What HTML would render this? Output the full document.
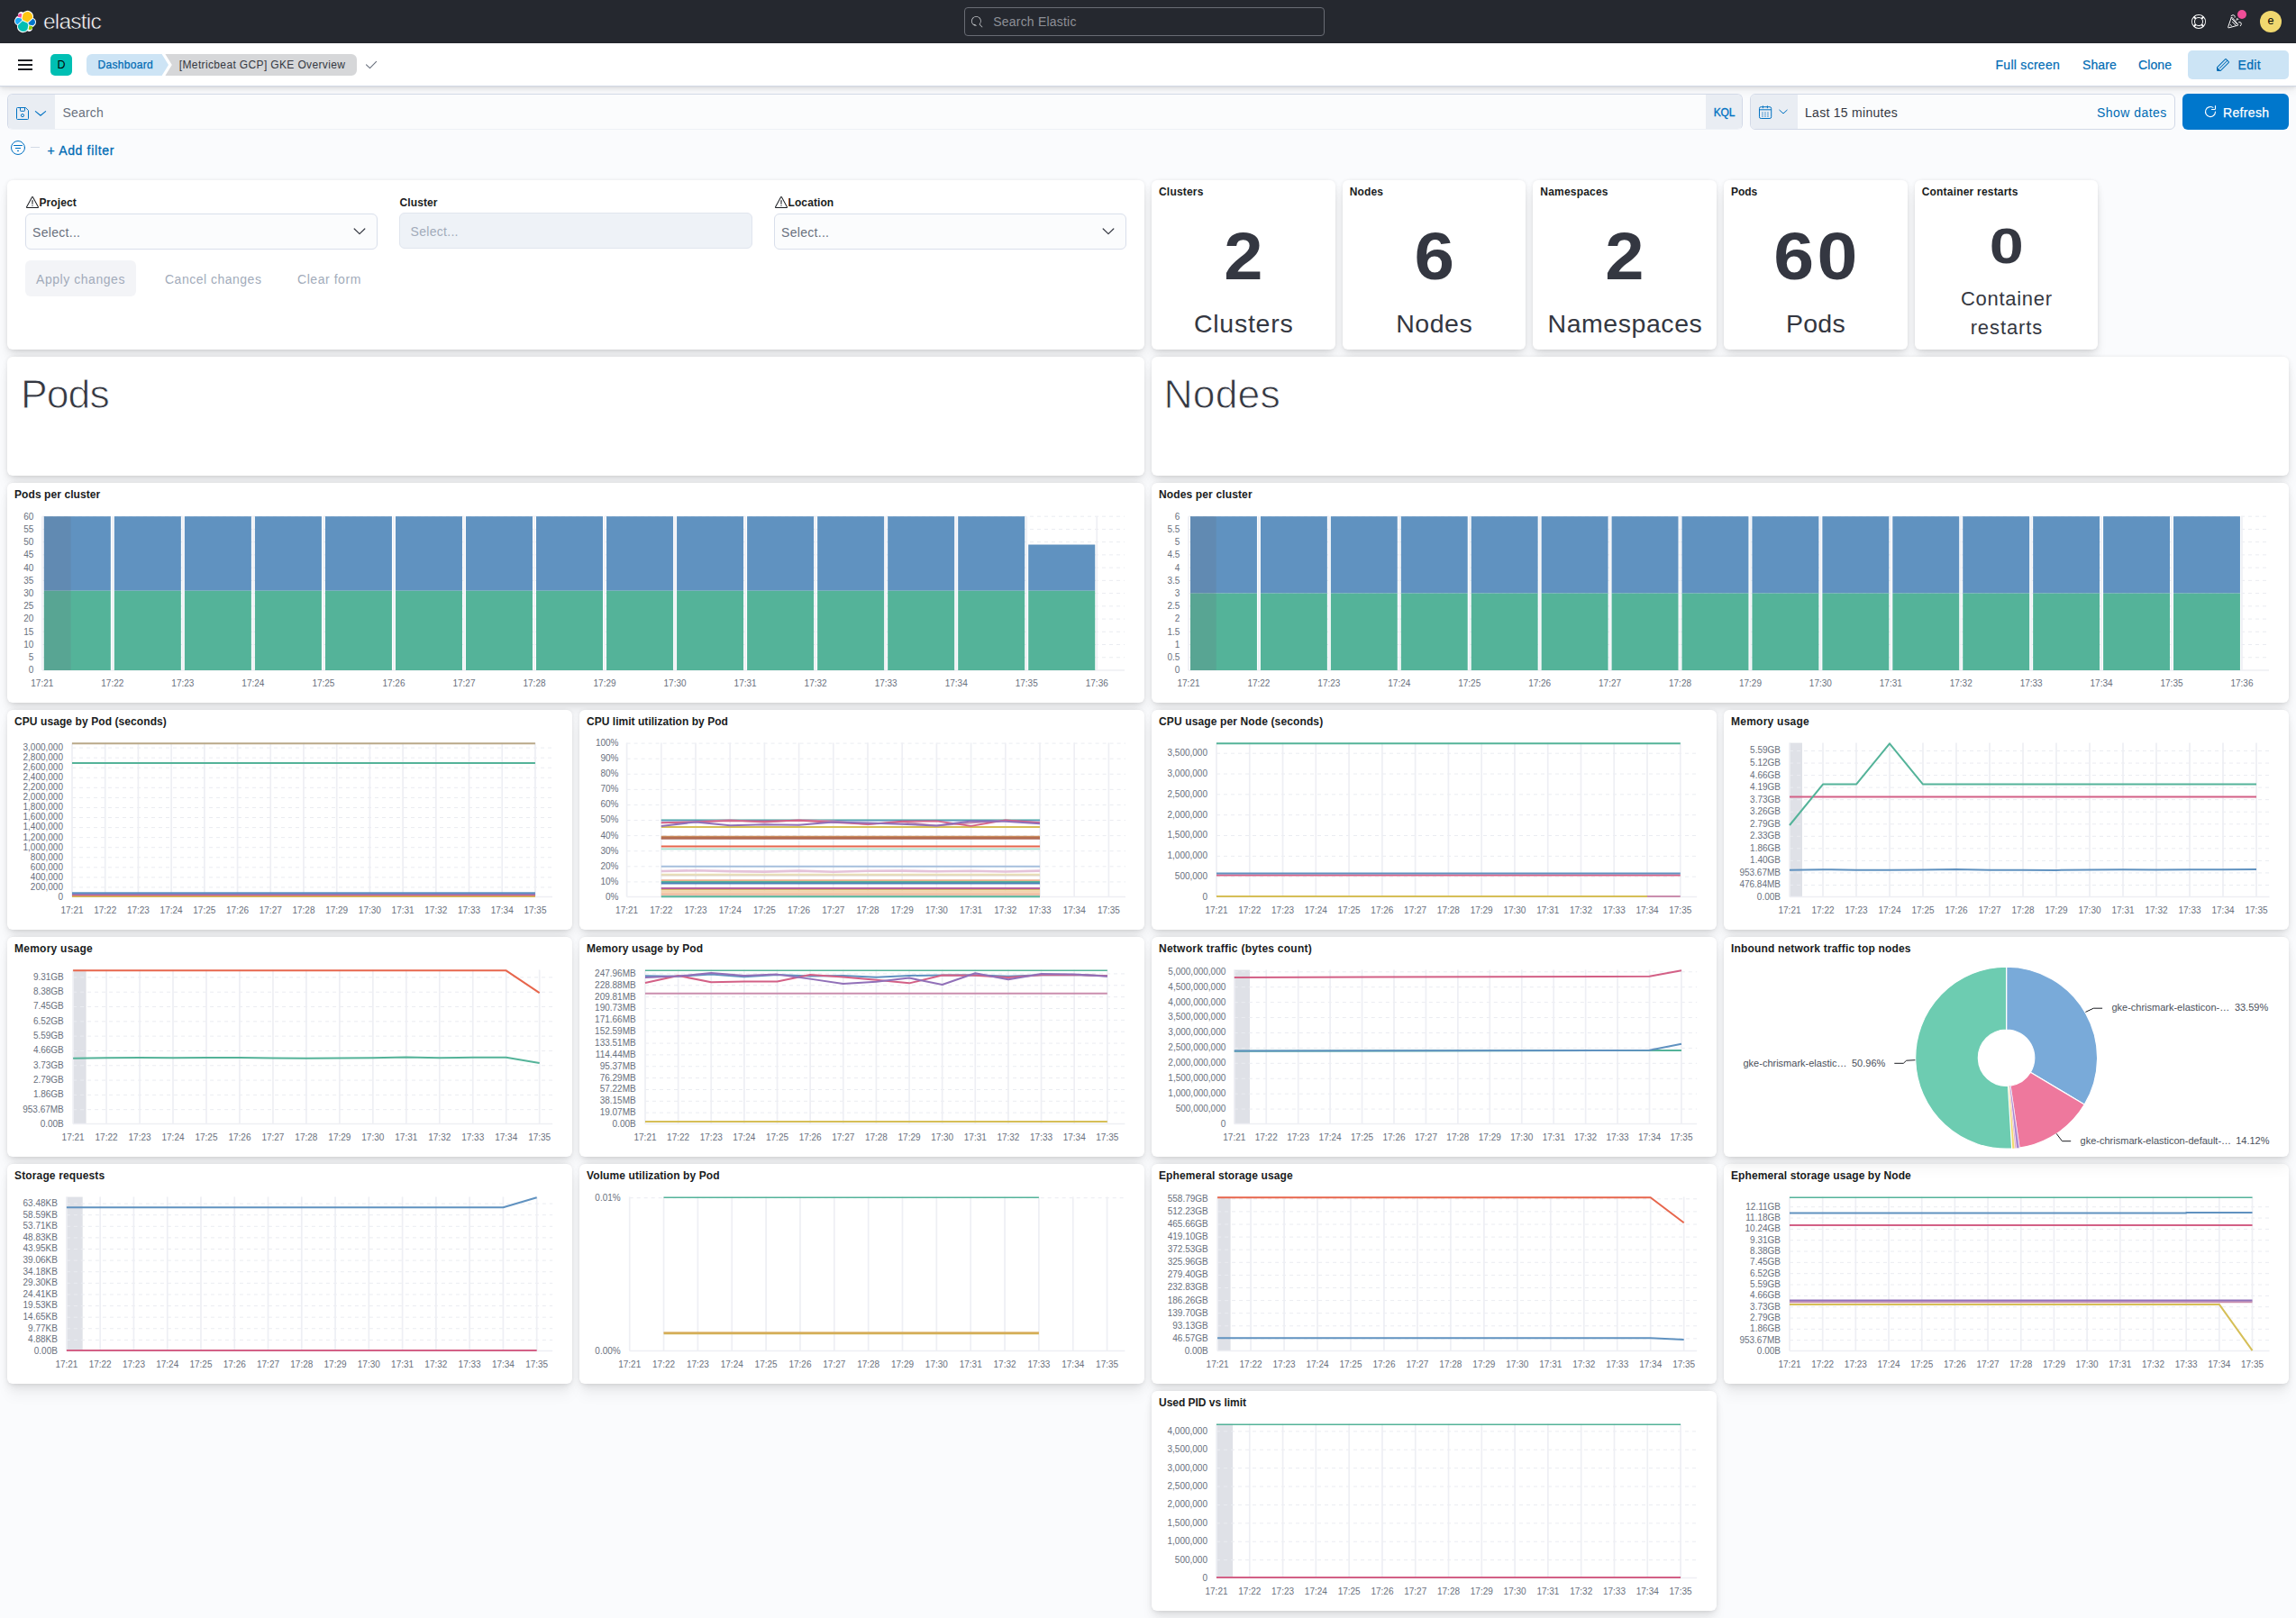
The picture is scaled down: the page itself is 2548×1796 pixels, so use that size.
<!DOCTYPE html><html lang="en"><head><meta charset="utf-8"><title>[Metricbeat GCP] GKE Overview - Elastic</title><style>
*{box-sizing:border-box;margin:0;padding:0}
html,body{width:2548px;height:1796px;overflow:hidden}
body{background:#fafbfd;font-family:"Liberation Sans",sans-serif;color:#343741;position:relative;font-size:14px}
.abs{position:absolute}
.t{position:absolute;white-space:nowrap;line-height:1}
#top{position:absolute;left:0;top:0;width:2548px;height:48px;background:#25282f}
#nav{position:absolute;left:0;top:48px;width:2548px;height:48px;background:#fff;border-bottom:1px solid #d3dae6;box-shadow:0 .7px 1.400px rgba(0,0,0,.09),0 1.900px 4px rgba(0,0,0,.07),0 4.500px 10px rgba(0,0,0,.06)}
.panel{position:absolute;background:#fff;border-radius:6px;box-shadow:0 .9px 4px -1px rgba(0,0,0,.08),0 2.6px 8px -1px rgba(0,0,0,.06),0 5.7px 12px -1px rgba(0,0,0,.05),0 15px 15px -1px rgba(0,0,0,.04)}
.ptitle{position:absolute;left:8px;top:6px;font-size:12px;font-weight:700;color:#1a1c21;white-space:nowrap;line-height:14px;letter-spacing:.17px}
.link{color:#006bb4}
svg{position:absolute;overflow:visible}
svg text{font-family:"Liberation Sans",sans-serif}
.mnum{position:absolute;left:0;width:100%;text-align:center;font-weight:700;color:#343741;line-height:1;white-space:nowrap}
.mlab{position:absolute;left:0;width:100%;text-align:center;color:#343741;line-height:1;white-space:nowrap}
.sel{position:absolute;height:40px;border-radius:6px;font-size:14px;color:#69707d}
</style></head><body>
<div id="top">
<svg style="left:16px;top:12px" width="24" height="24" viewBox="0 0 32 32"><g fill="none" fill-rule="evenodd">
<path fill="#FFF" d="M32 16.77a6.334 6.334 0 0 0-1.14-3.63 6.269 6.269 0 0 0-3.02-2.31 9.044 9.044 0 0 0-.47-5.67 9.01 9.01 0 0 0-3.8-4.22 8.906 8.906 0 0 0-5.57-1.06 8.937 8.937 0 0 0-5.07 2.54 4.805 4.805 0 0 0-5.66-.11 4.87 4.87 0 0 0-1.81 2.42 4.903 4.903 0 0 0-.05 3.03A6.403 6.403 0 0 0 1.18 11.6 6.462 6.462 0 0 0 0 15.25c0 1.31.4 2.58 1.14 3.65a6.321 6.321 0 0 0 3.03 2.31 9.003 9.003 0 0 0 .47 5.66 8.943 8.943 0 0 0 3.79 4.22 8.891 8.891 0 0 0 5.56 1.06 8.907 8.907 0 0 0 5.07-2.53 4.78 4.78 0 0 0 5.65.11 4.847 4.847 0 0 0 1.81-2.42c.33-.98.35-2.04.05-3.03a6.4 6.4 0 0 0 3.06-2.34A6.455 6.455 0 0 0 32 16.77"/>
<path fill="#FEC514" d="M12.58 13.787l7.002 3.211 7.066-6.213a7.849 7.849 0 0 0 .152-1.557c0-4.287-3.472-7.775-7.74-7.775a7.72 7.72 0 0 0-6.387 3.382l-1.176 6.122 1.083 2.83z"/>
<path fill="#00BFB3" d="M5.333 21.215A7.94 7.94 0 0 0 5.18 22.8c0 4.3 3.483 7.798 7.764 7.798a7.733 7.733 0 0 0 6.408-3.407l1.166-6.103-1.556-2.988-7.03-3.217-6.6 6.332z"/>
<path fill="#F04E98" d="M5.29 9.067l4.8 1.137L11.14 4.73a3.785 3.785 0 0 0-2.304-.786c-2.086 0-3.783 1.704-3.783 3.8 0 .463.08.906.237 1.323"/>
<path fill="#1BA9F5" d="M4.873 10.214C2.73 10.926 1.23 12.99 1.23 15.26a5.33 5.33 0 0 0 3.408 4.98l6.733-6.112-1.236-2.653-5.262-1.26z"/>
<path fill="#93C90E" d="M20.873 27.278a3.737 3.737 0 0 0 2.286.787c2.086 0 3.783-1.704 3.783-3.8 0-.462-.08-.905-.236-1.322l-4.795-1.127-1.038 5.462z"/>
<path fill="#07C" d="M21.848 20.563l5.28 1.24c2.144-.71 3.644-2.776 3.644-5.047a5.32 5.32 0 0 0-3.415-4.97l-6.904 6.075 1.395 2.702z"/>
</g></svg>
<div class="t" style="left:48px;top:10px;font-size:24.5px;color:#fff;letter-spacing:-.8px;line-height:28px;-webkit-text-stroke:.55px #25282f">elastic</div>
<div class="abs" style="left:1070px;top:8px;width:400px;height:32px;border:1px solid #696c74;border-radius:4px"></div>
<svg style="left:1078px;top:18px" width="12.4" height="12.4" viewBox="0 0 16 16" fill="#c2c4c8"><path d="M11.271 11.978l3.872 3.873a.502.502 0 0 0 .708 0 .502.502 0 0 0 0-.708l-3.565-3.564c2.38-2.747 2.267-6.923-.342-9.532-2.73-2.73-7.17-2.73-9.898 0-2.728 2.729-2.728 7.17 0 9.9a6.955 6.955 0 0 0 4.949 2.05.5.5 0 0 0 0-1 5.96 5.96 0 0 0-4.242-1.757 6.01 6.01 0 0 1 0-8.486c2.337-2.34 6.143-2.34 8.484 0a6.01 6.01 0 0 1 0 8.486.5.5 0 0 0 .034.738z"/></svg>
<div class="t" style="left:1102.300px;top:17px;font-size:14px;color:#8e9097;letter-spacing:.2px">Search Elastic</div>
<svg style="left:2432px;top:16px" width="16" height="16" viewBox="0 0 16 16" fill="#fff"><path d="M13.6 12.186l-1.357-1.358c-.025-.025-.058-.034-.084-.056.53-.794.84-1.746.84-2.773a4.977 4.977 0 0 0-.84-2.772c.026-.02.059-.03.084-.056L13.6 3.813a6.96 6.96 0 0 1 0 8.373zM8 15A6.956 6.956 0 0 1 3.814 13.6l1.358-1.358c.025-.025.034-.057.055-.084C6.02 12.688 6.974 13 8 13a4.978 4.978 0 0 0 2.773-.84c.02.026.03.058.056.083l1.357 1.358A6.956 6.956 0 0 1 8 15zm-5.601-2.813a6.963 6.963 0 0 1 0-8.373l1.359 1.358c.024.025.057.035.084.056A4.97 4.97 0 0 0 3 8c0 1.027.31 1.98.842 2.773-.027.022-.06.031-.084.056l-1.36 1.358zm5.6-.187A4 4 0 1 1 8 4a4 4 0 0 1 0 8zM8 1c1.573 0 3.019.525 4.187 1.4l-1.357 1.358c-.025.025-.035.057-.056.084A4.979 4.979 0 0 0 8 3a4.979 4.979 0 0 0-2.773.842c-.021-.027-.03-.059-.055-.084L3.814 2.4A6.957 6.957 0 0 1 8 1zm0-1a8.001 8.001 0 1 0 .003 16.002A8.001 8.001 0 0 0 8 0z"/></svg>
<svg style="left:2472px;top:16px" width="16" height="16" viewBox="0 0 16 16" fill="none" stroke="#fff" stroke-width="1" stroke-linecap="round" stroke-linejoin="round"><path d="M4.200 3.700L.700 13.900Q.400 15 1.500 14.800L11.300 12.200Q12.300 11.800 11.500 11L5.300 3.500Q4.600 2.900 4.200 3.700Z"/><path d="M5 5L10.400 10.900M5.500 8.400L9.200 12.100M3.300 11.400L4.300 12.600"/><path d="M4.100 1.500Q6.400 -.3 7.800 1.400Q8.500 2.300 8.200 3.200"/><path d="M12.600 8.600Q15.200 8.200 15.300 10.200Q15.300 11.800 14.300 12.800"/><path d="M9.200 6.900L10.300 3.800L12.800 5.500Z" fill="#c4c5c8" stroke="none"/></svg>
<div class="abs" style="left:2482.600px;top:10.600px;width:10.600px;height:10.600px;border-radius:50%;background:#f04e98"></div>
<div class="abs" style="left:2508px;top:12px;width:24px;height:24px;border-radius:50%;background:#f1d86f"></div>
<div class="t" style="left:2508px;top:17px;width:24px;text-align:center;font-size:12.500px;color:#000">e</div>
</div>
<div id="nav"></div>
<div class="abs" style="left:20px;top:66px;width:16px;height:2px;background:#1a1c21"></div>
<div class="abs" style="left:20px;top:71px;width:16px;height:2px;background:#1a1c21"></div>
<div class="abs" style="left:20px;top:76px;width:16px;height:2px;background:#1a1c21"></div>
<div class="abs" style="left:56px;top:60px;width:24px;height:24px;border-radius:5px;background:#00bfb3"></div>
<div class="t" style="left:56px;top:66px;width:24px;text-align:center;font-size:12.5px;color:#000">D</div>
<svg style="left:96px;top:60px" width="304" height="24" viewBox="0 0 304 24">
<path d="M6 0H83.600L91 12L83.600 24H6A6 6 0 0 1 0 18V6A6 6 0 0 1 6 0Z" fill="#cde4f5"/>
<path d="M87.400 0H294A6 6 0 0 1 300 6V18A6 6 0 0 1 294 24H87.400L94.800 12Z" fill="#d6d7d9"/>
</svg>
<div class="t" style="left:108.500px;top:66px;font-size:12px;color:#006bb4;letter-spacing:.32px;-webkit-text-stroke:.25px #006bb4">Dashboard</div>
<div class="t" style="left:198.800px;top:66px;font-size:12px;color:#343741;letter-spacing:.36px">[Metricbeat GCP] GKE Overview</div>
<svg style="left:404px;top:64px" width="16" height="16" viewBox="0 0 16 16"><path d="M2.500 7.800L6.500 11.600L13.600 4.400" fill="none" stroke="#69707d" stroke-width="1.1" stroke-linecap="round" stroke-linejoin="round"/></svg>
<div class="t link" style="left:2214.500px;top:65px;font-size:14px;letter-spacing:.28px;-webkit-text-stroke:.2px #006bb4">Full screen</div>
<div class="t link" style="left:2311px;top:65px;font-size:14px;letter-spacing:.1px;-webkit-text-stroke:.2px #006bb4">Share</div>
<div class="t link" style="left:2373px;top:65px;font-size:14px;letter-spacing:.1px;-webkit-text-stroke:.2px #006bb4">Clone</div>
<div class="abs" style="left:2428px;top:56px;width:112px;height:32px;border-radius:5px;background:#cce4f5"></div>
<svg style="left:2459px;top:64px" width="16" height="16" viewBox="0 0 16 16" fill="#006bb4"><path d="M12.148 3.148L11 2l-9 9v3h3l9-9-1.144-1.144-8.002 7.998a.502.502 0 0 1-.708 0 .502.502 0 0 1 0-.708l8.002-7.998zM11 1c.256 0 .512.098.707.293l3 3a.999.999 0 0 1 0 1.414l-9 9A.997.997 0 0 1 5 15H2a1 1 0 0 1-1-1v-3c0-.265.105-.52.293-.707l9-9A.997.997 0 0 1 11 1zM5 14H2v-3l3 3z"/></svg>
<div class="t link" style="left:2483.500px;top:65px;font-size:14px;letter-spacing:.3px;-webkit-text-stroke:.25px #006bb4">Edit</div>
<div class="abs" style="left:8px;top:104px;width:1926px;height:40px;border:1px solid #d2d9e7;border-bottom-color:#eef1f6;border-radius:6px;background:#fbfcfd;overflow:hidden"><div class="abs" style="left:0;top:0;width:52px;height:39px;background:#e9edf3;border-bottom:1px solid #d2d9e7"></div><div class="abs" style="right:0;top:0;width:40.500px;height:39px;background:#e9edf3;border-bottom:1px solid #d2d9e7"></div></div>
<svg style="left:18px;top:119px" width="14" height="14" viewBox="0 0 14 14" fill="none" stroke="#0071c2" stroke-width="1" stroke-linejoin="round"><path d="M1.500 .500H10.400L13.500 3.600V12.500A1 1 0 0 1 12.500 13.500H1.500A1 1 0 0 1 .500 12.500V1.500A1 1 0 0 1 1.500 .500Z"/><path d="M4.500 .500V3.700A.6.600 0 0 0 5.100 4.300H8.900A.6.600 0 0 0 9.500 3.700V.500"/><circle cx="6.950" cy="9.150" r="1.550"/></svg>
<svg style="left:38px;top:122px" width="14" height="8" viewBox="0 0 14 8"><path d="M1.400 1.600L7 6.200L12.600 1.600" fill="none" stroke="#0071c2" stroke-width="1.100" stroke-linecap="round" stroke-linejoin="round"/></svg>
<div class="t" style="left:69.500px;top:118px;font-size:14px;color:#69707d;letter-spacing:.2px">Search</div>
<div class="t" style="left:1901.700px;top:119px;font-size:12px;letter-spacing:-.2px;color:#0071c2;-webkit-text-stroke:.35px #0071c2">KQL</div>
<div class="abs" style="left:1942px;top:104px;width:472px;height:40px;border:1px solid #d2d9e7;border-radius:6px;background:#fbfcfd;overflow:hidden"><div class="abs" style="left:0;top:0;width:52px;height:38px;background:#e9edf3"></div></div>
<svg style="left:1952px;top:116.500px" width="14.400" height="15.600" viewBox="0 0 14.400 15.600" fill="none" stroke="#0071c2" stroke-width="1"><rect x=".5" y="1.700" width="13.200" height="12.800" rx="1.700"/><path d="M.5 4.800H13.700M4.400 .400V3.200M9.400 .400V3.200"/><path d="M3.100 8.100H10.900M3.100 10.100H10.900M3.100 12.100H10.900" stroke-width=".75" stroke-dasharray="1.700 1.300"/></svg>
<svg style="left:1974px;top:121px" width="10" height="6" viewBox="0 0 10 6"><path d="M.8 1.200L5 5L9.200 1.200" fill="none" stroke="#0071c2" stroke-width="1" stroke-linecap="round" stroke-linejoin="round"/></svg>
<div class="t" style="left:2003px;top:118px;font-size:14px;color:#343741;letter-spacing:.28px">Last 15 minutes</div>
<div class="t link" style="left:2327px;top:118px;font-size:14px;letter-spacing:.45px">Show dates</div>
<div class="abs" style="left:2422px;top:104px;width:118px;height:40px;border-radius:6px;background:#0077cc"></div>
<svg style="left:2445px;top:116px" width="16" height="16" viewBox="0 0 16 16"><path d="M10.900 3.400A5.500 5.500 0 1 0 13.500 8" fill="none" stroke="#fff" stroke-width="1.100" stroke-linecap="round"/><path d="M13.500 1.500V4.500A1 1 0 0 1 12.500 5.500H9.500" fill="none" stroke="#fff" stroke-width="1.100" stroke-linecap="round"/></svg>
<div class="t" style="left:2467px;top:117.500px;font-size:14px;color:#fff;letter-spacing:.35px;-webkit-text-stroke:.25px #fff">Refresh</div>
<svg style="left:12px;top:156px" width="16" height="16" viewBox="0 0 16 16" fill="none" stroke="#0071c2" stroke-width="1" stroke-linecap="round"><circle cx="8" cy="8" r="7.500"/><path d="M3.500 5.500H12.500M5.400 8.500H10.600M7.400 11.500H8.600"/></svg>
<div class="abs" style="left:34px;top:163px;width:10px;height:1px;background:#d3dae6"></div>
<div class="t link" style="left:52.500px;top:160px;font-size:14px;letter-spacing:.67px;-webkit-text-stroke:.3px #006bb4">+ Add filter</div>
<div class="panel" style="left:8.00px;top:200px;width:1262.00px;height:188px">
<svg style="left:19.8px;top:16.8px" width="16" height="16" viewBox="0 0 16 16" fill="#1a1c21"><path d="M7.590 10.059L7.350 5.180h1.300L8.400 10.060h-.810zm.394 1.901a.610.610 0 0 1-.448-.186.606.606 0 0 1-.186-.444c0-.174.062-.323.186-.446a.614.614 0 0 1 .448-.184c.169 0 .315.060.440.182.124.122.186.270.186.448a.600.600 0 0 1-.189.446.607.607 0 0 1-.437.184zM2 14a1 1 0 0 1-.878-1.479l6-11a1 1 0 0 1 1.756 0l6 11A1 1 0 0 1 14 14H2zm0-1h12L8 2 2 13z"/></svg>
<div class="t" style="left:35.5px;top:19px;font-size:12px;font-weight:700;color:#1a1c21;letter-spacing:.1px">Project</div>
<div class="sel" style="left:20.0px;top:37px;width:391px;background:#fbfcfd;border:1px solid #d9dfeb"></div>
<div class="t" style="left:28.0px;top:51px;font-size:14px;color:#69707d;letter-spacing:.3px">Select...</div>
<svg style="left:384.0px;top:53.2px" width="14" height="8" viewBox="0 0 14 8"><path d="M1.200 1L7 6.600L12.800 1" fill="none" stroke="#343741" stroke-width="1.200" stroke-linecap="round" stroke-linejoin="round"/></svg>
<div class="t" style="left:435.5px;top:19px;font-size:12px;font-weight:700;color:#1a1c21;letter-spacing:.1px">Cluster</div>
<div class="sel" style="left:435.0px;top:36px;width:392px;background:#eef2f7;border:1px solid #e0e5ee"></div>
<div class="t" style="left:447.5px;top:50px;font-size:14px;color:#a2abba;letter-spacing:.3px">Select...</div>
<svg style="left:850.8px;top:16.8px" width="16" height="16" viewBox="0 0 16 16" fill="#1a1c21"><path d="M7.590 10.059L7.350 5.180h1.300L8.400 10.060h-.810zm.394 1.901a.610.610 0 0 1-.448-.186.606.606 0 0 1-.186-.444c0-.174.062-.323.186-.446a.614.614 0 0 1 .448-.184c.169 0 .315.060.440.182.124.122.186.270.186.448a.600.600 0 0 1-.189.446.607.607 0 0 1-.437.184zM2 14a1 1 0 0 1-.878-1.479l6-11a1 1 0 0 1 1.756 0l6 11A1 1 0 0 1 14 14H2zm0-1h12L8 2 2 13z"/></svg>
<div class="t" style="left:866.5px;top:19px;font-size:12px;font-weight:700;color:#1a1c21;letter-spacing:.1px">Location</div>
<div class="sel" style="left:851.0px;top:37px;width:391px;background:#fbfcfd;border:1px solid #d9dfeb"></div>
<div class="t" style="left:859.0px;top:51px;font-size:14px;color:#69707d;letter-spacing:.3px">Select...</div>
<svg style="left:1215.0px;top:53.2px" width="14" height="8" viewBox="0 0 14 8"><path d="M1.200 1L7 6.600L12.800 1" fill="none" stroke="#343741" stroke-width="1.200" stroke-linecap="round" stroke-linejoin="round"/></svg>
<div class="abs" style="left:20.0px;top:89px;width:123px;height:40px;border-radius:6px;background:#f3f4f7"></div>
<div class="t" style="left:32.0px;top:103px;font-size:14px;color:#a2abba;letter-spacing:.55px">Apply changes</div>
<div class="t" style="left:175.0px;top:103px;font-size:14px;color:#a2abba;letter-spacing:.5px">Cancel changes</div>
<div class="t" style="left:322.0px;top:103px;font-size:14px;color:#a2abba;letter-spacing:.55px">Clear form</div>
</div>
<div class="panel" style="left:1278.00px;top:200px;width:203.67px;height:188px">
<div class="ptitle" style="letter-spacing:0.198px">Clusters</div>
<div class="mnum" style="top:47.5px;font-size:74px;transform:scaleX(1.05);letter-spacing:0px;text-indent:0px">2</div>
<div class="mlab" style="top:145.0px;font-size:28.500px;letter-spacing:0.75px;text-indent:0.75px">Clusters</div>
</div>
<div class="panel" style="left:1489.67px;top:200px;width:203.67px;height:188px">
<div class="ptitle" style="letter-spacing:0.145px">Nodes</div>
<div class="mnum" style="top:47.5px;font-size:74px;transform:scaleX(1.08);letter-spacing:0px;text-indent:0px">6</div>
<div class="mlab" style="top:145.0px;font-size:28.500px;letter-spacing:0.5px;text-indent:0.5px">Nodes</div>
</div>
<div class="panel" style="left:1701.33px;top:200px;width:203.67px;height:188px">
<div class="ptitle" style="letter-spacing:0.192px">Namespaces</div>
<div class="mnum" style="top:47.5px;font-size:74px;transform:scaleX(1.05);letter-spacing:0px;text-indent:0px">2</div>
<div class="mlab" style="top:145.0px;font-size:28.500px;letter-spacing:0.55px;text-indent:0.55px">Namespaces</div>
</div>
<div class="panel" style="left:1913.00px;top:200px;width:203.67px;height:188px">
<div class="ptitle" style="letter-spacing:-0.06px">Pods</div>
<div class="mnum" style="top:47.5px;font-size:74px;transform:scaleX(1.09);letter-spacing:3px;text-indent:3px">60</div>
<div class="mlab" style="top:145.0px;font-size:28.500px;letter-spacing:0.3px;text-indent:0.3px">Pods</div>
</div>
<div class="panel" style="left:2124.67px;top:200px;width:203.67px;height:188px">
<div class="ptitle" style="letter-spacing:0.202px">Container restarts</div>
<div class="mnum" style="top:45.0px;font-size:56px;transform:scaleX(1.22)">0</div>
<div class="mlab" style="top:121.0px;font-size:22px;letter-spacing:.7px;text-indent:.7px">Container</div>
<div class="mlab" style="top:152.8px;font-size:22px;letter-spacing:.9px;text-indent:.9px">restarts</div>
</div>
<div class="panel" style="left:8.00px;top:396px;width:1262.00px;height:132px">
<div class="t" style="left:15.1px;top:20px;font-size:44.500px;color:#343741;letter-spacing:-.95px;-webkit-text-stroke:.9px #fff">Pods</div>
</div>
<div class="panel" style="left:1278.00px;top:396px;width:1262.00px;height:132px">
<div class="t" style="left:13.6px;top:20px;font-size:44.500px;color:#343741;letter-spacing:.1px;-webkit-text-stroke:.9px #fff">Nodes</div>
</div>
<div class="panel" style="left:8.00px;top:536px;width:1262.00px;height:244px">
<div class="ptitle" style="letter-spacing:0.079px">Pods per cluster</div>
<svg style="left:0;top:0" width="1262" height="244" viewBox="0 0 1262 244" font-size="10" fill="#69707d"><path d="M39 193.77H1240M39 179.53H1240M39 165.3H1240M39 151.07H1240M39 136.83H1240M39 122.6H1240M39 108.37H1240M39 94.13H1240M39 79.9H1240M39 65.67H1240M39 51.43H1240M39 37.2H1240" stroke="#eaecf1" stroke-width="1" stroke-dasharray="4 4" fill="none"/><path d="M39 208H1240M38.8 37.2V208M116.83 37.2V208M194.86 37.2V208M272.89 37.2V208M350.92 37.2V208M428.95 37.2V208M506.98 37.2V208M585.01 37.2V208M663.04 37.2V208M741.07 37.2V208M819.1 37.2V208M897.13 37.2V208M975.16 37.2V208M1053.19 37.2V208M1131.22 37.2V208M1209.25 37.2V208" stroke="#eeeff4" stroke-width="1.7" fill="none"/><rect x="40.8" y="37.2" width="74.03" height="82.55" fill="#6092C0"/><rect x="40.8" y="119.75" width="74.03" height="88.25" fill="#54B399"/><rect x="118.83" y="37.2" width="74.03" height="82.55" fill="#6092C0"/><rect x="118.83" y="119.75" width="74.03" height="88.25" fill="#54B399"/><rect x="196.86" y="37.2" width="74.03" height="82.55" fill="#6092C0"/><rect x="196.86" y="119.75" width="74.03" height="88.25" fill="#54B399"/><rect x="274.89" y="37.2" width="74.03" height="82.55" fill="#6092C0"/><rect x="274.89" y="119.75" width="74.03" height="88.25" fill="#54B399"/><rect x="352.92" y="37.2" width="74.03" height="82.55" fill="#6092C0"/><rect x="352.92" y="119.75" width="74.03" height="88.25" fill="#54B399"/><rect x="430.95" y="37.2" width="74.03" height="82.55" fill="#6092C0"/><rect x="430.95" y="119.75" width="74.03" height="88.25" fill="#54B399"/><rect x="508.98" y="37.2" width="74.03" height="82.55" fill="#6092C0"/><rect x="508.98" y="119.75" width="74.03" height="88.25" fill="#54B399"/><rect x="587.01" y="37.2" width="74.03" height="82.55" fill="#6092C0"/><rect x="587.01" y="119.75" width="74.03" height="88.25" fill="#54B399"/><rect x="665.04" y="37.2" width="74.03" height="82.55" fill="#6092C0"/><rect x="665.04" y="119.75" width="74.03" height="88.25" fill="#54B399"/><rect x="743.07" y="37.2" width="74.03" height="82.55" fill="#6092C0"/><rect x="743.07" y="119.75" width="74.03" height="88.25" fill="#54B399"/><rect x="821.1" y="37.2" width="74.03" height="82.55" fill="#6092C0"/><rect x="821.1" y="119.75" width="74.03" height="88.25" fill="#54B399"/><rect x="899.13" y="37.2" width="74.03" height="82.55" fill="#6092C0"/><rect x="899.13" y="119.75" width="74.03" height="88.25" fill="#54B399"/><rect x="977.16" y="37.2" width="74.03" height="82.55" fill="#6092C0"/><rect x="977.16" y="119.75" width="74.03" height="88.25" fill="#54B399"/><rect x="1055.19" y="37.2" width="74.03" height="82.55" fill="#6092C0"/><rect x="1055.19" y="119.75" width="74.03" height="88.25" fill="#54B399"/><rect x="1133.22" y="68.51" width="74.03" height="51.24" fill="#6092C0"/><rect x="1133.22" y="119.75" width="74.03" height="88.25" fill="#54B399"/><rect x="40.8" y="37.2" width="29.8" height="170.8" fill="#69707d" fill-opacity=".2"/><text x="29.3" y="211.4" text-anchor="end">0</text><text x="29.3" y="197.17" text-anchor="end">5</text><text x="29.3" y="182.93" text-anchor="end">10</text><text x="29.3" y="168.7" text-anchor="end">15</text><text x="29.3" y="154.47" text-anchor="end">20</text><text x="29.3" y="140.23" text-anchor="end">25</text><text x="29.3" y="126" text-anchor="end">30</text><text x="29.3" y="111.77" text-anchor="end">35</text><text x="29.3" y="97.53" text-anchor="end">40</text><text x="29.3" y="83.3" text-anchor="end">45</text><text x="29.3" y="69.07" text-anchor="end">50</text><text x="29.3" y="54.83" text-anchor="end">55</text><text x="29.3" y="40.6" text-anchor="end">60</text><text x="38.8" y="226.2" text-anchor="middle">17:21</text><text x="116.83" y="226.2" text-anchor="middle">17:22</text><text x="194.86" y="226.2" text-anchor="middle">17:23</text><text x="272.89" y="226.2" text-anchor="middle">17:24</text><text x="350.92" y="226.2" text-anchor="middle">17:25</text><text x="428.95" y="226.2" text-anchor="middle">17:26</text><text x="506.98" y="226.2" text-anchor="middle">17:27</text><text x="585.01" y="226.2" text-anchor="middle">17:28</text><text x="663.04" y="226.2" text-anchor="middle">17:29</text><text x="741.07" y="226.2" text-anchor="middle">17:30</text><text x="819.1" y="226.2" text-anchor="middle">17:31</text><text x="897.13" y="226.2" text-anchor="middle">17:32</text><text x="975.16" y="226.2" text-anchor="middle">17:33</text><text x="1053.19" y="226.2" text-anchor="middle">17:34</text><text x="1131.22" y="226.2" text-anchor="middle">17:35</text><text x="1209.25" y="226.2" text-anchor="middle">17:36</text></svg>
</div>
<div class="panel" style="left:1278.00px;top:536px;width:1262.00px;height:244px">
<div class="ptitle" style="letter-spacing:0.137px">Nodes per cluster</div>
<svg style="left:0;top:0" width="1262" height="244" viewBox="0 0 1262 244" font-size="10" fill="#69707d"><path d="M41 193.77H1240M41 179.53H1240M41 165.3H1240M41 151.07H1240M41 136.83H1240M41 122.6H1240M41 108.37H1240M41 94.13H1240M41 79.9H1240M41 65.67H1240M41 51.43H1240M41 37.2H1240" stroke="#eaecf1" stroke-width="1" stroke-dasharray="4 4" fill="none"/><path d="M41 208H1240M41 37.2V208M118.93 37.2V208M196.86 37.2V208M274.79 37.2V208M352.72 37.2V208M430.65 37.2V208M508.58 37.2V208M586.51 37.2V208M664.44 37.2V208M742.37 37.2V208M820.3 37.2V208M898.23 37.2V208M976.16 37.2V208M1054.09 37.2V208M1132.02 37.2V208M1209.95 37.2V208" stroke="#eeeff4" stroke-width="1.7" fill="none"/><rect x="43" y="37.2" width="73.93" height="85.4" fill="#6092C0"/><rect x="43" y="122.6" width="73.93" height="85.4" fill="#54B399"/><rect x="120.93" y="37.2" width="73.93" height="85.4" fill="#6092C0"/><rect x="120.93" y="122.6" width="73.93" height="85.4" fill="#54B399"/><rect x="198.86" y="37.2" width="73.93" height="85.4" fill="#6092C0"/><rect x="198.86" y="122.6" width="73.93" height="85.4" fill="#54B399"/><rect x="276.79" y="37.2" width="73.93" height="85.4" fill="#6092C0"/><rect x="276.79" y="122.6" width="73.93" height="85.4" fill="#54B399"/><rect x="354.72" y="37.2" width="73.93" height="85.4" fill="#6092C0"/><rect x="354.72" y="122.6" width="73.93" height="85.4" fill="#54B399"/><rect x="432.65" y="37.2" width="73.93" height="85.4" fill="#6092C0"/><rect x="432.65" y="122.6" width="73.93" height="85.4" fill="#54B399"/><rect x="510.58" y="37.2" width="73.93" height="85.4" fill="#6092C0"/><rect x="510.58" y="122.6" width="73.93" height="85.4" fill="#54B399"/><rect x="588.51" y="37.2" width="73.93" height="85.4" fill="#6092C0"/><rect x="588.51" y="122.6" width="73.93" height="85.4" fill="#54B399"/><rect x="666.44" y="37.2" width="73.93" height="85.4" fill="#6092C0"/><rect x="666.44" y="122.6" width="73.93" height="85.4" fill="#54B399"/><rect x="744.37" y="37.2" width="73.93" height="85.4" fill="#6092C0"/><rect x="744.37" y="122.6" width="73.93" height="85.4" fill="#54B399"/><rect x="822.3" y="37.2" width="73.93" height="85.4" fill="#6092C0"/><rect x="822.3" y="122.6" width="73.93" height="85.4" fill="#54B399"/><rect x="900.23" y="37.2" width="73.93" height="85.4" fill="#6092C0"/><rect x="900.23" y="122.6" width="73.93" height="85.4" fill="#54B399"/><rect x="978.16" y="37.2" width="73.93" height="85.4" fill="#6092C0"/><rect x="978.16" y="122.6" width="73.93" height="85.4" fill="#54B399"/><rect x="1056.09" y="37.2" width="73.93" height="85.4" fill="#6092C0"/><rect x="1056.09" y="122.6" width="73.93" height="85.4" fill="#54B399"/><rect x="1134.02" y="37.2" width="73.93" height="85.4" fill="#6092C0"/><rect x="1134.02" y="122.6" width="73.93" height="85.4" fill="#54B399"/><rect x="43" y="37.2" width="28.7" height="170.8" fill="#69707d" fill-opacity=".2"/><text x="31.3" y="211.4" text-anchor="end">0</text><text x="31.3" y="197.17" text-anchor="end">0.5</text><text x="31.3" y="182.93" text-anchor="end">1</text><text x="31.3" y="168.7" text-anchor="end">1.5</text><text x="31.3" y="154.47" text-anchor="end">2</text><text x="31.3" y="140.23" text-anchor="end">2.5</text><text x="31.3" y="126" text-anchor="end">3</text><text x="31.3" y="111.77" text-anchor="end">3.5</text><text x="31.3" y="97.53" text-anchor="end">4</text><text x="31.3" y="83.3" text-anchor="end">4.5</text><text x="31.3" y="69.07" text-anchor="end">5</text><text x="31.3" y="54.83" text-anchor="end">5.5</text><text x="31.3" y="40.6" text-anchor="end">6</text><text x="41" y="226.2" text-anchor="middle">17:21</text><text x="118.93" y="226.2" text-anchor="middle">17:22</text><text x="196.86" y="226.2" text-anchor="middle">17:23</text><text x="274.79" y="226.2" text-anchor="middle">17:24</text><text x="352.72" y="226.2" text-anchor="middle">17:25</text><text x="430.65" y="226.2" text-anchor="middle">17:26</text><text x="508.58" y="226.2" text-anchor="middle">17:27</text><text x="586.51" y="226.2" text-anchor="middle">17:28</text><text x="664.44" y="226.2" text-anchor="middle">17:29</text><text x="742.37" y="226.2" text-anchor="middle">17:30</text><text x="820.3" y="226.2" text-anchor="middle">17:31</text><text x="898.23" y="226.2" text-anchor="middle">17:32</text><text x="976.16" y="226.2" text-anchor="middle">17:33</text><text x="1054.09" y="226.2" text-anchor="middle">17:34</text><text x="1132.02" y="226.2" text-anchor="middle">17:35</text><text x="1209.95" y="226.2" text-anchor="middle">17:36</text></svg>
</div>
<div class="panel" style="left:8.00px;top:788px;width:627.00px;height:244px">
<div class="ptitle" style="letter-spacing:0.085px">CPU usage by Pod (seconds)</div>
<svg style="left:0;top:0" width="627" height="244" viewBox="0 0 627 244" font-size="10" fill="#69707d"><path d="M72 196.94H605M72 185.88H605M72 174.82H605M72 163.76H605M72 152.7H605M72 141.64H605M72 130.58H605M72 119.52H605M72 108.46H605M72 97.4H605M72 86.34H605M72 75.28H605M72 64.22H605M72 53.16H605M72 42.1H605" stroke="#eaecf1" stroke-width="1" stroke-dasharray="4 4" fill="none"/><path d="M72 207.5H605M72 36.6V207.5M108.71 36.6V207.5M145.42 36.6V207.5M182.13 36.6V207.5M218.84 36.6V207.5M255.55 36.6V207.5M292.26 36.6V207.5M328.97 36.6V207.5M365.68 36.6V207.5M402.39 36.6V207.5M439.1 36.6V207.5M475.81 36.6V207.5M512.52 36.6V207.5M549.23 36.6V207.5M585.94 36.6V207.5" stroke="#eeeff4" stroke-width="1.7" fill="none"/><polyline points="72,37.3 585.94,37.3" fill="none" stroke="#B9A888" stroke-width="2" stroke-linejoin="round"/><polyline points="72,58.9 585.94,58.9" fill="none" stroke="#54B399" stroke-width="2" stroke-linejoin="round"/><polyline points="72,206.9 585.94,206.9" fill="none" stroke="#D6BF57" stroke-width="2" stroke-linejoin="round"/><polyline points="72,206.3 585.94,206.3" fill="none" stroke="#DA8B45" stroke-width="1.5" stroke-linejoin="round"/><polyline points="72,205.6 585.94,205.6" fill="none" stroke="#CA8EAE" stroke-width="1.5" stroke-linejoin="round"/><polyline points="72,205.2 585.94,205.2" fill="none" stroke="#D36086" stroke-width="1.2" stroke-linejoin="round"/><polyline points="72,204.6 585.94,204.6" fill="none" stroke="#9170B8" stroke-width="1.5" stroke-linejoin="round"/><polyline points="72,203.2 585.94,203.2" fill="none" stroke="#6092C0" stroke-width="2" stroke-linejoin="round"/><text x="62" y="210.9" text-anchor="end">0</text><text x="62" y="199.84" text-anchor="end">200,000</text><text x="62" y="188.78" text-anchor="end">400,000</text><text x="62" y="177.72" text-anchor="end">600,000</text><text x="62" y="166.66" text-anchor="end">800,000</text><text x="62" y="155.6" text-anchor="end">1,000,000</text><text x="62" y="144.54" text-anchor="end">1,200,000</text><text x="62" y="133.48" text-anchor="end">1,400,000</text><text x="62" y="122.42" text-anchor="end">1,600,000</text><text x="62" y="111.36" text-anchor="end">1,800,000</text><text x="62" y="100.3" text-anchor="end">2,000,000</text><text x="62" y="89.24" text-anchor="end">2,200,000</text><text x="62" y="78.18" text-anchor="end">2,400,000</text><text x="62" y="67.12" text-anchor="end">2,600,000</text><text x="62" y="56.06" text-anchor="end">2,800,000</text><text x="62" y="45" text-anchor="end">3,000,000</text><text x="72" y="225.8" text-anchor="middle">17:21</text><text x="108.71" y="225.8" text-anchor="middle">17:22</text><text x="145.42" y="225.8" text-anchor="middle">17:23</text><text x="182.13" y="225.8" text-anchor="middle">17:24</text><text x="218.84" y="225.8" text-anchor="middle">17:25</text><text x="255.55" y="225.8" text-anchor="middle">17:26</text><text x="292.26" y="225.8" text-anchor="middle">17:27</text><text x="328.97" y="225.8" text-anchor="middle">17:28</text><text x="365.68" y="225.8" text-anchor="middle">17:29</text><text x="402.39" y="225.8" text-anchor="middle">17:30</text><text x="439.1" y="225.8" text-anchor="middle">17:31</text><text x="475.81" y="225.8" text-anchor="middle">17:32</text><text x="512.52" y="225.8" text-anchor="middle">17:33</text><text x="549.23" y="225.8" text-anchor="middle">17:34</text><text x="585.94" y="225.8" text-anchor="middle">17:35</text></svg>
</div>
<div class="panel" style="left:643.00px;top:788px;width:627.00px;height:244px">
<div class="ptitle" style="letter-spacing:0.032px">CPU limit utilization by Pod</div>
<svg style="left:0;top:0" width="627" height="244" viewBox="0 0 627 244" font-size="10" fill="#69707d"><path d="M52.6 190.91H606M52.6 173.82H606M52.6 156.73H606M52.6 139.64H606M52.6 122.55H606M52.6 105.46H606M52.6 88.37H606M52.6 71.28H606M52.6 54.19H606M52.6 37.1H606" stroke="#eaecf1" stroke-width="1" stroke-dasharray="4 4" fill="none"/><path d="M52.6 207.5H606M52.6 36.6V207.5M90.8 36.6V207.5M129 36.6V207.5M167.2 36.6V207.5M205.4 36.6V207.5M243.6 36.6V207.5M281.8 36.6V207.5M320 36.6V207.5M358.2 36.6V207.5M396.4 36.6V207.5M434.6 36.6V207.5M472.8 36.6V207.5M511 36.6V207.5M549.2 36.6V207.5M587.4 36.6V207.5" stroke="#eeeff4" stroke-width="1.7" fill="none"/><polyline points="90.8,207.16 511,207.16" fill="none" stroke="#54B399" stroke-width="2" stroke-linejoin="round"/><polyline points="90.8,205.11 511,205.11" fill="none" stroke="#EDBBA6" stroke-width="2" stroke-linejoin="round"/><polyline points="90.8,203.4 511,203.4" fill="none" stroke="#F1C7A8" stroke-width="2" stroke-linejoin="round"/><polyline points="90.8,201.69 511,201.69" fill="none" stroke="#F3D3AD" stroke-width="2.2" stroke-linejoin="round"/><polyline points="90.8,199.64 511,199.64" fill="none" stroke="#D9B65E" stroke-width="1.4" stroke-linejoin="round"/><polyline points="90.8,198.1 511,198.1" fill="none" stroke="#B5619F" stroke-width="2" stroke-linejoin="round"/><polyline points="90.8,192.29 511,192.29" fill="none" stroke="#4A80B8" stroke-width="2.4" stroke-linejoin="round"/><polyline points="90.8,190.58 511,190.58" fill="none" stroke="#54B399" stroke-width="1.8" stroke-linejoin="round"/><polyline points="90.8,189.04 511,189.04" fill="none" stroke="#E8AE8C" stroke-width="1.8" stroke-linejoin="round"/><polyline points="90.8,183.74 511,183.74" fill="none" stroke="#DDD4C4" stroke-width="1.6" stroke-linejoin="round"/><polyline points="90.8,182.55 511,182.55" fill="none" stroke="#EADFB5" stroke-width="1.5" stroke-linejoin="round"/><polyline points="90.8,178.96 129,178.28 167.2,179.13 205.4,179.64 243.6,178.62 281.8,179.81 320,178.79 358.2,178.62 396.4,179.3 434.6,178.79 472.8,179.47 511,178.62" fill="none" stroke="#E5C3DA" stroke-width="2.6" stroke-linejoin="round"/><polyline points="90.8,173.83 511,173.83" fill="none" stroke="#A6BFDD" stroke-width="2" stroke-linejoin="round"/><polyline points="90.8,154.35 511,154.35" fill="none" stroke="#A8DCCB" stroke-width="1.6" stroke-linejoin="round"/><polyline points="90.8,151.44 511,151.44" fill="none" stroke="#E7664C" stroke-width="2" stroke-linejoin="round"/><polyline points="90.8,142.73 511,142.73" fill="none" stroke="#AA6556" stroke-width="2" stroke-linejoin="round"/><polyline points="90.8,141.53 511,141.53" fill="none" stroke="#B46F52" stroke-width="2.2" stroke-linejoin="round"/><polyline points="90.8,140.34 511,140.34" fill="none" stroke="#C98A5B" stroke-width="1.4" stroke-linejoin="round"/><polyline points="90.8,129.91 511,129.91" fill="none" stroke="#D6BF57" stroke-width="2" stroke-linejoin="round"/><polyline points="90.8,122.22 511,122.22" fill="none" stroke="#3FA79C" stroke-width="1.6" stroke-linejoin="round"/><polyline points="90.8,122.9 511,122.9" fill="none" stroke="#6092C0" stroke-width="1.2" stroke-linejoin="round"/><polyline points="90.8,125.13 129,124.1 167.2,122.05 205.4,124.96 243.6,122.22 281.8,123.42 320,127.18 358.2,124.44 396.4,128.54 434.6,125.47 472.8,122.73 511,125.47" fill="none" stroke="#CA8EAE" stroke-width="1.8" stroke-linejoin="round"/><polyline points="90.8,125.47 129,124.44 167.2,123.08 205.4,123.76 243.6,122.73 281.8,124.78 320,126.84 358.2,123.76 396.4,123.42 434.6,128.89 472.8,122.39 511,125.13" fill="none" stroke="#D36086" stroke-width="1.8" stroke-linejoin="round"/><polyline points="90.8,128.89 129,124.44 167.2,128.2 205.4,127.18 243.6,127.86 281.8,124.44 320,125.47 358.2,126.84 396.4,128.54 434.6,123.42 472.8,123.76 511,126.15" fill="none" stroke="#9170B8" stroke-width="2" stroke-linejoin="round"/><text x="43.5" y="210.9" text-anchor="end">0%</text><text x="43.5" y="193.81" text-anchor="end">10%</text><text x="43.5" y="176.72" text-anchor="end">20%</text><text x="43.5" y="159.63" text-anchor="end">30%</text><text x="43.5" y="142.54" text-anchor="end">40%</text><text x="43.5" y="125.45" text-anchor="end">50%</text><text x="43.5" y="108.36" text-anchor="end">60%</text><text x="43.5" y="91.27" text-anchor="end">70%</text><text x="43.5" y="74.18" text-anchor="end">80%</text><text x="43.5" y="57.09" text-anchor="end">90%</text><text x="43.5" y="40" text-anchor="end">100%</text><text x="52.6" y="225.8" text-anchor="middle">17:21</text><text x="90.8" y="225.8" text-anchor="middle">17:22</text><text x="129" y="225.8" text-anchor="middle">17:23</text><text x="167.2" y="225.8" text-anchor="middle">17:24</text><text x="205.4" y="225.8" text-anchor="middle">17:25</text><text x="243.6" y="225.8" text-anchor="middle">17:26</text><text x="281.8" y="225.8" text-anchor="middle">17:27</text><text x="320" y="225.8" text-anchor="middle">17:28</text><text x="358.2" y="225.8" text-anchor="middle">17:29</text><text x="396.4" y="225.8" text-anchor="middle">17:30</text><text x="434.6" y="225.8" text-anchor="middle">17:31</text><text x="472.8" y="225.8" text-anchor="middle">17:32</text><text x="511" y="225.8" text-anchor="middle">17:33</text><text x="549.2" y="225.8" text-anchor="middle">17:34</text><text x="587.4" y="225.8" text-anchor="middle">17:35</text></svg>
</div>
<div class="panel" style="left:1278.00px;top:788px;width:627.00px;height:244px">
<div class="ptitle" style="letter-spacing:0.128px">CPU usage per Node (seconds)</div>
<svg style="left:0;top:0" width="627" height="244" viewBox="0 0 627 244" font-size="10" fill="#69707d"><path d="M72 185.17H605.2M72 162.34H605.2M72 139.51H605.2M72 116.68H605.2M72 93.85H605.2M72 71.02H605.2M72 48.19H605.2" stroke="#eaecf1" stroke-width="1" stroke-dasharray="4 4" fill="none"/><path d="M72 207.5H605.2M72 36.6V207.5M108.77 36.6V207.5M145.54 36.6V207.5M182.31 36.6V207.5M219.08 36.6V207.5M255.85 36.6V207.5M292.62 36.6V207.5M329.39 36.6V207.5M366.16 36.6V207.5M402.93 36.6V207.5M439.7 36.6V207.5M476.47 36.6V207.5M513.24 36.6V207.5M550.01 36.6V207.5M586.78 36.6V207.5" stroke="#eeeff4" stroke-width="1.7" fill="none"/><polyline points="72,37.3 586.78,37.3" fill="none" stroke="#54B399" stroke-width="2" stroke-linejoin="round"/><polyline points="72,183.6 586.78,183.6" fill="none" stroke="#D36086" stroke-width="2" stroke-linejoin="round"/><polyline points="72,181.6 586.78,181.6" fill="none" stroke="#6092C0" stroke-width="2" stroke-linejoin="round"/><polyline points="550.01,207 586.78,207" fill="none" stroke="#CA8EAE" stroke-width="2" stroke-linejoin="round"/><polyline points="72,207 550.01,207" fill="none" stroke="#D6BF57" stroke-width="2" stroke-linejoin="round"/><text x="62" y="210.9" text-anchor="end">0</text><text x="62" y="188.07" text-anchor="end">500,000</text><text x="62" y="165.24" text-anchor="end">1,000,000</text><text x="62" y="142.41" text-anchor="end">1,500,000</text><text x="62" y="119.58" text-anchor="end">2,000,000</text><text x="62" y="96.75" text-anchor="end">2,500,000</text><text x="62" y="73.92" text-anchor="end">3,000,000</text><text x="62" y="51.09" text-anchor="end">3,500,000</text><text x="72" y="225.8" text-anchor="middle">17:21</text><text x="108.77" y="225.8" text-anchor="middle">17:22</text><text x="145.54" y="225.8" text-anchor="middle">17:23</text><text x="182.31" y="225.8" text-anchor="middle">17:24</text><text x="219.08" y="225.8" text-anchor="middle">17:25</text><text x="255.85" y="225.8" text-anchor="middle">17:26</text><text x="292.62" y="225.8" text-anchor="middle">17:27</text><text x="329.39" y="225.8" text-anchor="middle">17:28</text><text x="366.16" y="225.8" text-anchor="middle">17:29</text><text x="402.93" y="225.8" text-anchor="middle">17:30</text><text x="439.7" y="225.8" text-anchor="middle">17:31</text><text x="476.47" y="225.8" text-anchor="middle">17:32</text><text x="513.24" y="225.8" text-anchor="middle">17:33</text><text x="550.01" y="225.8" text-anchor="middle">17:34</text><text x="586.78" y="225.8" text-anchor="middle">17:35</text></svg>
</div>
<div class="panel" style="left:1913.00px;top:788px;width:627.00px;height:244px">
<div class="ptitle" style="letter-spacing:0.247px">Memory usage</div>
<svg style="left:0;top:0" width="627" height="244" viewBox="0 0 627 244" font-size="10" fill="#69707d"><rect x="73" y="36.6" width="14" height="170.9" fill="#dfe1e7"/><path d="M73 194.46H605.5M73 180.92H605.5M73 167.38H605.5M73 153.84H605.5M73 140.3H605.5M73 126.76H605.5M73 113.22H605.5M73 99.68H605.5M73 86.14H605.5M73 72.6H605.5M73 59.06H605.5M73 45.52H605.5" stroke="#eaecf1" stroke-width="1" stroke-dasharray="4 4" fill="none"/><path d="M73 207.5H605.5M73 36.6V207.5M110 36.6V207.5M147 36.6V207.5M184 36.6V207.5M221 36.6V207.5M258 36.6V207.5M295 36.6V207.5M332 36.6V207.5M369 36.6V207.5M406 36.6V207.5M443 36.6V207.5M480 36.6V207.5M517 36.6V207.5M554 36.6V207.5M591 36.6V207.5" stroke="#eeeff4" stroke-width="1.7" fill="none"/><polyline points="73,177.8 110,177.2 147,177.7 184,177.8 221,177.6 258,177.1 295,177.7 332,177.8 369,177.9 406,177.4 443,177.3 480,177.4 517,177.3 554,177.2 591,177.1" fill="none" stroke="#6092C0" stroke-width="2" stroke-linejoin="round"/><polyline points="73,96.5 591,96.5" fill="none" stroke="#D36086" stroke-width="2" stroke-linejoin="round"/><polyline points="73,128 110,82.6 147,82.6 184,37.3 221,82.6 258,82.6 295,82.6 332,82.6 369,82.6 406,82.6 443,82.6 480,82.6 517,82.6 554,82.6 591,82.6" fill="none" stroke="#54B399" stroke-width="2" stroke-linejoin="round"/><text x="63" y="210.9" text-anchor="end">0.00B</text><text x="63" y="197.36" text-anchor="end">476.84MB</text><text x="63" y="183.82" text-anchor="end">953.67MB</text><text x="63" y="170.28" text-anchor="end">1.40GB</text><text x="63" y="156.74" text-anchor="end">1.86GB</text><text x="63" y="143.2" text-anchor="end">2.33GB</text><text x="63" y="129.66" text-anchor="end">2.79GB</text><text x="63" y="116.12" text-anchor="end">3.26GB</text><text x="63" y="102.58" text-anchor="end">3.73GB</text><text x="63" y="89.04" text-anchor="end">4.19GB</text><text x="63" y="75.5" text-anchor="end">4.66GB</text><text x="63" y="61.96" text-anchor="end">5.12GB</text><text x="63" y="48.42" text-anchor="end">5.59GB</text><text x="73" y="225.8" text-anchor="middle">17:21</text><text x="110" y="225.8" text-anchor="middle">17:22</text><text x="147" y="225.8" text-anchor="middle">17:23</text><text x="184" y="225.8" text-anchor="middle">17:24</text><text x="221" y="225.8" text-anchor="middle">17:25</text><text x="258" y="225.8" text-anchor="middle">17:26</text><text x="295" y="225.8" text-anchor="middle">17:27</text><text x="332" y="225.8" text-anchor="middle">17:28</text><text x="369" y="225.8" text-anchor="middle">17:29</text><text x="406" y="225.8" text-anchor="middle">17:30</text><text x="443" y="225.8" text-anchor="middle">17:31</text><text x="480" y="225.8" text-anchor="middle">17:32</text><text x="517" y="225.8" text-anchor="middle">17:33</text><text x="554" y="225.8" text-anchor="middle">17:34</text><text x="591" y="225.8" text-anchor="middle">17:35</text></svg>
</div>
<div class="panel" style="left:8.00px;top:1040px;width:627.00px;height:244px">
<div class="ptitle" style="letter-spacing:0.247px">Memory usage</div>
<svg style="left:0;top:0" width="627" height="244" viewBox="0 0 627 244" font-size="10" fill="#69707d"><rect x="73.1" y="36.6" width="14.5" height="170.9" fill="#dfe1e7"/><path d="M73.1 191.69H605.2M73.1 175.38H605.2M73.1 159.07H605.2M73.1 142.76H605.2M73.1 126.45H605.2M73.1 110.14H605.2M73.1 93.83H605.2M73.1 77.52H605.2M73.1 61.21H605.2M73.1 44.9H605.2" stroke="#eaecf1" stroke-width="1" stroke-dasharray="4 4" fill="none"/><path d="M73.1 207.5H605.2M73.1 36.6V207.5M110.07 36.6V207.5M147.04 36.6V207.5M184.01 36.6V207.5M220.98 36.6V207.5M257.95 36.6V207.5M294.92 36.6V207.5M331.89 36.6V207.5M368.86 36.6V207.5M405.83 36.6V207.5M442.8 36.6V207.5M479.77 36.6V207.5M516.74 36.6V207.5M553.71 36.6V207.5M590.68 36.6V207.5" stroke="#eeeff4" stroke-width="1.7" fill="none"/><polyline points="73.1,134.7 110.07,134.2 147.04,134.1 184.01,134.3 220.98,134 257.95,133.9 294.92,134.6 331.89,134.7 368.86,134.6 405.83,134.3 442.8,133.6 479.77,134.2 516.74,133.7 553.71,133.7 590.68,140" fill="none" stroke="#54B399" stroke-width="2" stroke-linejoin="round"/><polyline points="73.1,37.3 553.71,37.3 590.68,62.2" fill="none" stroke="#E7664C" stroke-width="2" stroke-linejoin="round"/><text x="62.8" y="210.9" text-anchor="end">0.00B</text><text x="62.8" y="194.59" text-anchor="end">953.67MB</text><text x="62.8" y="178.28" text-anchor="end">1.86GB</text><text x="62.8" y="161.97" text-anchor="end">2.79GB</text><text x="62.8" y="145.66" text-anchor="end">3.73GB</text><text x="62.8" y="129.35" text-anchor="end">4.66GB</text><text x="62.8" y="113.04" text-anchor="end">5.59GB</text><text x="62.8" y="96.73" text-anchor="end">6.52GB</text><text x="62.8" y="80.42" text-anchor="end">7.45GB</text><text x="62.8" y="64.11" text-anchor="end">8.38GB</text><text x="62.8" y="47.8" text-anchor="end">9.31GB</text><text x="73.1" y="225.8" text-anchor="middle">17:21</text><text x="110.07" y="225.8" text-anchor="middle">17:22</text><text x="147.04" y="225.8" text-anchor="middle">17:23</text><text x="184.01" y="225.8" text-anchor="middle">17:24</text><text x="220.98" y="225.8" text-anchor="middle">17:25</text><text x="257.95" y="225.8" text-anchor="middle">17:26</text><text x="294.92" y="225.8" text-anchor="middle">17:27</text><text x="331.89" y="225.8" text-anchor="middle">17:28</text><text x="368.86" y="225.8" text-anchor="middle">17:29</text><text x="405.83" y="225.8" text-anchor="middle">17:30</text><text x="442.8" y="225.8" text-anchor="middle">17:31</text><text x="479.77" y="225.8" text-anchor="middle">17:32</text><text x="516.74" y="225.8" text-anchor="middle">17:33</text><text x="553.71" y="225.8" text-anchor="middle">17:34</text><text x="590.68" y="225.8" text-anchor="middle">17:35</text></svg>
</div>
<div class="panel" style="left:643.00px;top:1040px;width:627.00px;height:244px">
<div class="ptitle" style="letter-spacing:0.091px">Memory usage by Pod</div>
<svg style="left:0;top:0" width="627" height="244" viewBox="0 0 627 244" font-size="10" fill="#69707d"><path d="M73 195.15H605.4M73 182.3H605.4M73 169.45H605.4M73 156.6H605.4M73 143.75H605.4M73 130.9H605.4M73 118.05H605.4M73 105.2H605.4M73 92.35H605.4M73 79.5H605.4M73 66.65H605.4M73 53.8H605.4M73 40.95H605.4" stroke="#eaecf1" stroke-width="1" stroke-dasharray="4 4" fill="none"/><path d="M73 207.5H605.4M73 36.6V207.5M109.63 36.6V207.5M146.26 36.6V207.5M182.89 36.6V207.5M219.52 36.6V207.5M256.15 36.6V207.5M292.78 36.6V207.5M329.41 36.6V207.5M366.04 36.6V207.5M402.67 36.6V207.5M439.3 36.6V207.5M475.93 36.6V207.5M512.56 36.6V207.5M549.19 36.6V207.5M585.82 36.6V207.5" stroke="#eeeff4" stroke-width="1.7" fill="none"/><polyline points="73,205 585.82,205" fill="none" stroke="#D6BF57" stroke-width="2" stroke-linejoin="round"/><polyline points="73,62.8 585.82,62.8" fill="none" stroke="#CA8EAE" stroke-width="2" stroke-linejoin="round"/><polyline points="73,37.3 585.82,37.3" fill="none" stroke="#54B399" stroke-width="1.4" stroke-linejoin="round"/><polyline points="73,43.29 109.63,43.85 146.26,41.62 182.89,44.13 219.52,41.9 256.15,43.57 292.78,43.01 329.41,44.68 366.04,43.01 402.67,42.45 439.3,42.17 475.93,43.85 512.56,42.17 549.19,41.9 585.82,43.29" fill="none" stroke="#6092C0" stroke-width="2" stroke-linejoin="round"/><polyline points="73,51.09 109.63,43.01 146.26,50.26 182.89,49.42 219.52,49.42 256.15,41.9 292.78,44.4 329.41,47.75 366.04,51.37 402.67,42.45 439.3,42.73 475.93,44.96 512.56,42.17 549.19,41.9 585.82,43.29" fill="none" stroke="#D36086" stroke-width="2" stroke-linejoin="round"/><polyline points="73,44.96 109.63,43.57 146.26,39.94 182.89,43.01 219.52,41.62 256.15,46.63 292.78,51.93 329.41,49.7 366.04,45.52 402.67,53.05 439.3,40.22 475.93,47.19 512.56,41.06 549.19,41.62 585.82,43.85" fill="none" stroke="#9170B8" stroke-width="2" stroke-linejoin="round"/><text x="62.7" y="210.9" text-anchor="end">0.00B</text><text x="62.7" y="198.05" text-anchor="end">19.07MB</text><text x="62.7" y="185.2" text-anchor="end">38.15MB</text><text x="62.7" y="172.35" text-anchor="end">57.22MB</text><text x="62.7" y="159.5" text-anchor="end">76.29MB</text><text x="62.7" y="146.65" text-anchor="end">95.37MB</text><text x="62.7" y="133.8" text-anchor="end">114.44MB</text><text x="62.7" y="120.95" text-anchor="end">133.51MB</text><text x="62.7" y="108.1" text-anchor="end">152.59MB</text><text x="62.7" y="95.25" text-anchor="end">171.66MB</text><text x="62.7" y="82.4" text-anchor="end">190.73MB</text><text x="62.7" y="69.55" text-anchor="end">209.81MB</text><text x="62.7" y="56.7" text-anchor="end">228.88MB</text><text x="62.7" y="43.85" text-anchor="end">247.96MB</text><text x="73" y="225.8" text-anchor="middle">17:21</text><text x="109.63" y="225.8" text-anchor="middle">17:22</text><text x="146.26" y="225.8" text-anchor="middle">17:23</text><text x="182.89" y="225.8" text-anchor="middle">17:24</text><text x="219.52" y="225.8" text-anchor="middle">17:25</text><text x="256.15" y="225.8" text-anchor="middle">17:26</text><text x="292.78" y="225.8" text-anchor="middle">17:27</text><text x="329.41" y="225.8" text-anchor="middle">17:28</text><text x="366.04" y="225.8" text-anchor="middle">17:29</text><text x="402.67" y="225.8" text-anchor="middle">17:30</text><text x="439.3" y="225.8" text-anchor="middle">17:31</text><text x="475.93" y="225.8" text-anchor="middle">17:32</text><text x="512.56" y="225.8" text-anchor="middle">17:33</text><text x="549.19" y="225.8" text-anchor="middle">17:34</text><text x="585.82" y="225.8" text-anchor="middle">17:35</text></svg>
</div>
<div class="panel" style="left:1278.00px;top:1040px;width:627.00px;height:244px">
<div class="ptitle" style="letter-spacing:0.252px">Network traffic (bytes count)</div>
<svg style="left:0;top:0" width="627" height="244" viewBox="0 0 627 244" font-size="10" fill="#69707d"><rect x="91.8" y="36.6" width="17.2" height="170.9" fill="#dfe1e7"/><path d="M91.8 191.08H605.2M91.8 174.16H605.2M91.8 157.24H605.2M91.8 140.32H605.2M91.8 123.4H605.2M91.8 106.48H605.2M91.8 89.56H605.2M91.8 72.64H605.2M91.8 55.72H605.2M91.8 38.8H605.2" stroke="#eaecf1" stroke-width="1" stroke-dasharray="4 4" fill="none"/><path d="M91.8 207.5H605.2M91.8 36.6V207.5M127.24 36.6V207.5M162.68 36.6V207.5M198.12 36.6V207.5M233.56 36.6V207.5M269 36.6V207.5M304.44 36.6V207.5M339.88 36.6V207.5M375.32 36.6V207.5M410.76 36.6V207.5M446.2 36.6V207.5M481.64 36.6V207.5M517.08 36.6V207.5M552.52 36.6V207.5M587.96 36.6V207.5" stroke="#eeeff4" stroke-width="1.7" fill="none"/><polyline points="91.8,126.8 552.52,126 587.96,126" fill="none" stroke="#54B399" stroke-width="2" stroke-linejoin="round"/><polyline points="91.8,126.6 552.52,125.8 587.96,118.8" fill="none" stroke="#6092C0" stroke-width="2" stroke-linejoin="round"/><polyline points="91.8,45 552.52,43.8 587.96,37.3" fill="none" stroke="#D36086" stroke-width="2" stroke-linejoin="round"/><text x="82.3" y="210.9" text-anchor="end">0</text><text x="82.3" y="193.98" text-anchor="end">500,000,000</text><text x="82.3" y="177.06" text-anchor="end">1,000,000,000</text><text x="82.3" y="160.14" text-anchor="end">1,500,000,000</text><text x="82.3" y="143.22" text-anchor="end">2,000,000,000</text><text x="82.3" y="126.3" text-anchor="end">2,500,000,000</text><text x="82.3" y="109.38" text-anchor="end">3,000,000,000</text><text x="82.3" y="92.46" text-anchor="end">3,500,000,000</text><text x="82.3" y="75.54" text-anchor="end">4,000,000,000</text><text x="82.3" y="58.62" text-anchor="end">4,500,000,000</text><text x="82.3" y="41.7" text-anchor="end">5,000,000,000</text><text x="91.8" y="225.8" text-anchor="middle">17:21</text><text x="127.24" y="225.8" text-anchor="middle">17:22</text><text x="162.68" y="225.8" text-anchor="middle">17:23</text><text x="198.12" y="225.8" text-anchor="middle">17:24</text><text x="233.56" y="225.8" text-anchor="middle">17:25</text><text x="269" y="225.8" text-anchor="middle">17:26</text><text x="304.44" y="225.8" text-anchor="middle">17:27</text><text x="339.88" y="225.8" text-anchor="middle">17:28</text><text x="375.32" y="225.8" text-anchor="middle">17:29</text><text x="410.76" y="225.8" text-anchor="middle">17:30</text><text x="446.2" y="225.8" text-anchor="middle">17:31</text><text x="481.64" y="225.8" text-anchor="middle">17:32</text><text x="517.08" y="225.8" text-anchor="middle">17:33</text><text x="552.52" y="225.8" text-anchor="middle">17:34</text><text x="587.96" y="225.8" text-anchor="middle">17:35</text></svg>
</div>
<div class="panel" style="left:8.00px;top:1292px;width:627.00px;height:244px">
<div class="ptitle" style="letter-spacing:0.142px">Storage requests</div>
<svg style="left:0;top:0" width="627" height="244" viewBox="0 0 627 244" font-size="10" fill="#69707d"><rect x="65.9" y="36.6" width="17.8" height="170.9" fill="#dfe1e7"/><path d="M65.9 195.39H605.2M65.9 182.78H605.2M65.9 170.17H605.2M65.9 157.56H605.2M65.9 144.95H605.2M65.9 132.34H605.2M65.9 119.73H605.2M65.9 107.12H605.2M65.9 94.51H605.2M65.9 81.9H605.2M65.9 69.29H605.2M65.9 56.68H605.2M65.9 44.07H605.2" stroke="#eaecf1" stroke-width="1" stroke-dasharray="4 4" fill="none"/><path d="M65.9 207.5H605.2M65.9 36.6V207.5M103.17 36.6V207.5M140.44 36.6V207.5M177.71 36.6V207.5M214.98 36.6V207.5M252.25 36.6V207.5M289.52 36.6V207.5M326.79 36.6V207.5M364.06 36.6V207.5M401.33 36.6V207.5M438.6 36.6V207.5M475.87 36.6V207.5M513.14 36.6V207.5M550.41 36.6V207.5M587.68 36.6V207.5" stroke="#eeeff4" stroke-width="1.7" fill="none"/><polyline points="65.9,206.9 587.68,206.9" fill="none" stroke="#D36086" stroke-width="2" stroke-linejoin="round"/><polyline points="65.9,48.3 550.41,48.3 587.68,37.3" fill="none" stroke="#6092C0" stroke-width="2" stroke-linejoin="round"/><text x="55.9" y="210.9" text-anchor="end">0.00B</text><text x="55.9" y="198.29" text-anchor="end">4.88KB</text><text x="55.9" y="185.68" text-anchor="end">9.77KB</text><text x="55.9" y="173.07" text-anchor="end">14.65KB</text><text x="55.9" y="160.46" text-anchor="end">19.53KB</text><text x="55.9" y="147.85" text-anchor="end">24.41KB</text><text x="55.9" y="135.24" text-anchor="end">29.30KB</text><text x="55.9" y="122.63" text-anchor="end">34.18KB</text><text x="55.9" y="110.02" text-anchor="end">39.06KB</text><text x="55.9" y="97.41" text-anchor="end">43.95KB</text><text x="55.9" y="84.8" text-anchor="end">48.83KB</text><text x="55.9" y="72.19" text-anchor="end">53.71KB</text><text x="55.9" y="59.58" text-anchor="end">58.59KB</text><text x="55.9" y="46.97" text-anchor="end">63.48KB</text><text x="65.9" y="225.8" text-anchor="middle">17:21</text><text x="103.17" y="225.8" text-anchor="middle">17:22</text><text x="140.44" y="225.8" text-anchor="middle">17:23</text><text x="177.71" y="225.8" text-anchor="middle">17:24</text><text x="214.98" y="225.8" text-anchor="middle">17:25</text><text x="252.25" y="225.8" text-anchor="middle">17:26</text><text x="289.52" y="225.8" text-anchor="middle">17:27</text><text x="326.79" y="225.8" text-anchor="middle">17:28</text><text x="364.06" y="225.8" text-anchor="middle">17:29</text><text x="401.33" y="225.8" text-anchor="middle">17:30</text><text x="438.6" y="225.8" text-anchor="middle">17:31</text><text x="475.87" y="225.8" text-anchor="middle">17:32</text><text x="513.14" y="225.8" text-anchor="middle">17:33</text><text x="550.41" y="225.8" text-anchor="middle">17:34</text><text x="587.68" y="225.8" text-anchor="middle">17:35</text></svg>
</div>
<div class="panel" style="left:643.00px;top:1292px;width:627.00px;height:244px">
<div class="ptitle" style="letter-spacing:0.103px">Volume utilization by Pod</div>
<svg style="left:0;top:0" width="627" height="244" viewBox="0 0 627 244" font-size="10" fill="#69707d"><path d="M55.7 37.7H605.4" stroke="#eaecf1" stroke-width="1" stroke-dasharray="4 4" fill="none"/><path d="M55.7 207.5H605.4M55.7 36.6V207.5M93.55 36.6V207.5M131.4 36.6V207.5M169.25 36.6V207.5M207.1 36.6V207.5M244.95 36.6V207.5M282.8 36.6V207.5M320.65 36.6V207.5M358.5 36.6V207.5M396.35 36.6V207.5M434.2 36.6V207.5M472.05 36.6V207.5M509.9 36.6V207.5M547.75 36.6V207.5M585.6 36.6V207.5" stroke="#eeeff4" stroke-width="1.7" fill="none"/><polyline points="93.55,37.3 509.9,37.3" fill="none" stroke="#54B399" stroke-width="1.4" stroke-linejoin="round"/><polyline points="93.55,187.9 509.9,187.9" fill="none" stroke="#D3B257" stroke-width="2.6" stroke-linejoin="round"/><polyline points="93.55,187.2 509.9,187.2" fill="none" stroke="#D9A35A" stroke-width="0.8" stroke-linejoin="round"/><text x="45.7" y="210.9" text-anchor="end">0.00%</text><text x="45.7" y="40.6" text-anchor="end">0.01%</text><text x="55.7" y="225.8" text-anchor="middle">17:21</text><text x="93.55" y="225.8" text-anchor="middle">17:22</text><text x="131.4" y="225.8" text-anchor="middle">17:23</text><text x="169.25" y="225.8" text-anchor="middle">17:24</text><text x="207.1" y="225.8" text-anchor="middle">17:25</text><text x="244.95" y="225.8" text-anchor="middle">17:26</text><text x="282.8" y="225.8" text-anchor="middle">17:27</text><text x="320.65" y="225.8" text-anchor="middle">17:28</text><text x="358.5" y="225.8" text-anchor="middle">17:29</text><text x="396.35" y="225.8" text-anchor="middle">17:30</text><text x="434.2" y="225.8" text-anchor="middle">17:31</text><text x="472.05" y="225.8" text-anchor="middle">17:32</text><text x="509.9" y="225.8" text-anchor="middle">17:33</text><text x="547.75" y="225.8" text-anchor="middle">17:34</text><text x="585.6" y="225.8" text-anchor="middle">17:35</text></svg>
</div>
<div class="panel" style="left:1278.00px;top:1292px;width:627.00px;height:244px">
<div class="ptitle" style="letter-spacing:0.119px">Ephemeral storage usage</div>
<svg style="left:0;top:0" width="627" height="244" viewBox="0 0 627 244" font-size="10" fill="#69707d"><rect x="73.1" y="36.6" width="14.5" height="170.9" fill="#dfe1e7"/><path d="M73.1 193.9H605.2M73.1 179.8H605.2M73.1 165.7H605.2M73.1 151.6H605.2M73.1 137.5H605.2M73.1 123.4H605.2M73.1 109.3H605.2M73.1 95.2H605.2M73.1 81.1H605.2M73.1 67H605.2M73.1 52.9H605.2M73.1 38.8H605.2" stroke="#eaecf1" stroke-width="1" stroke-dasharray="4 4" fill="none"/><path d="M73.1 207.5H605.2M73.1 36.6V207.5M110.07 36.6V207.5M147.04 36.6V207.5M184.01 36.6V207.5M220.98 36.6V207.5M257.95 36.6V207.5M294.92 36.6V207.5M331.89 36.6V207.5M368.86 36.6V207.5M405.83 36.6V207.5M442.8 36.6V207.5M479.77 36.6V207.5M516.74 36.6V207.5M553.71 36.6V207.5M590.68 36.6V207.5" stroke="#eeeff4" stroke-width="1.7" fill="none"/><polyline points="73.1,193.3 553.71,193.3 590.68,194.9" fill="none" stroke="#6092C0" stroke-width="2" stroke-linejoin="round"/><polyline points="73.1,37.3 553.71,37.3 590.68,65.3" fill="none" stroke="#E7664C" stroke-width="2" stroke-linejoin="round"/><text x="62.8" y="210.9" text-anchor="end">0.00B</text><text x="62.8" y="196.8" text-anchor="end">46.57GB</text><text x="62.8" y="182.7" text-anchor="end">93.13GB</text><text x="62.8" y="168.6" text-anchor="end">139.70GB</text><text x="62.8" y="154.5" text-anchor="end">186.26GB</text><text x="62.8" y="140.4" text-anchor="end">232.83GB</text><text x="62.8" y="126.3" text-anchor="end">279.40GB</text><text x="62.8" y="112.2" text-anchor="end">325.96GB</text><text x="62.8" y="98.1" text-anchor="end">372.53GB</text><text x="62.8" y="84" text-anchor="end">419.10GB</text><text x="62.8" y="69.9" text-anchor="end">465.66GB</text><text x="62.8" y="55.8" text-anchor="end">512.23GB</text><text x="62.8" y="41.7" text-anchor="end">558.79GB</text><text x="73.1" y="225.8" text-anchor="middle">17:21</text><text x="110.07" y="225.8" text-anchor="middle">17:22</text><text x="147.04" y="225.8" text-anchor="middle">17:23</text><text x="184.01" y="225.8" text-anchor="middle">17:24</text><text x="220.98" y="225.8" text-anchor="middle">17:25</text><text x="257.95" y="225.8" text-anchor="middle">17:26</text><text x="294.92" y="225.8" text-anchor="middle">17:27</text><text x="331.89" y="225.8" text-anchor="middle">17:28</text><text x="368.86" y="225.8" text-anchor="middle">17:29</text><text x="405.83" y="225.8" text-anchor="middle">17:30</text><text x="442.8" y="225.8" text-anchor="middle">17:31</text><text x="479.77" y="225.8" text-anchor="middle">17:32</text><text x="516.74" y="225.8" text-anchor="middle">17:33</text><text x="553.71" y="225.8" text-anchor="middle">17:34</text><text x="590.68" y="225.8" text-anchor="middle">17:35</text></svg>
</div>
<div class="panel" style="left:1913.00px;top:1292px;width:627.00px;height:244px">
<div class="ptitle" style="letter-spacing:0.102px">Ephemeral storage usage by Node</div>
<svg style="left:0;top:0" width="627" height="244" viewBox="0 0 627 244" font-size="10" fill="#69707d"><path d="M73 195.67H605.5M73 183.34H605.5M73 171.01H605.5M73 158.68H605.5M73 146.35H605.5M73 134.02H605.5M73 121.69H605.5M73 109.36H605.5M73 97.03H605.5M73 84.7H605.5M73 72.37H605.5M73 60.04H605.5M73 47.71H605.5" stroke="#eaecf1" stroke-width="1" stroke-dasharray="4 4" fill="none"/><path d="M73 207.5H605.5M73 36.6V207.5M109.68 36.6V207.5M146.36 36.6V207.5M183.04 36.6V207.5M219.72 36.6V207.5M256.4 36.6V207.5M293.08 36.6V207.5M329.76 36.6V207.5M366.44 36.6V207.5M403.12 36.6V207.5M439.8 36.6V207.5M476.48 36.6V207.5M513.16 36.6V207.5M549.84 36.6V207.5M586.52 36.6V207.5" stroke="#eeeff4" stroke-width="1.7" fill="none"/><polyline points="73,155.9 549.84,155.9 586.52,207.2" fill="none" stroke="#D6BF57" stroke-width="2" stroke-linejoin="round"/><polyline points="73,153.2 586.52,153.2" fill="none" stroke="#CA8EAE" stroke-width="2" stroke-linejoin="round"/><polyline points="73,151.4 586.52,151.4" fill="none" stroke="#9170B8" stroke-width="2" stroke-linejoin="round"/><polyline points="73,68.1 586.52,68.1" fill="none" stroke="#D36086" stroke-width="2" stroke-linejoin="round"/><polyline points="73,54.4 513.16,54.4 513.16,54 586.52,54" fill="none" stroke="#6092C0" stroke-width="2" stroke-linejoin="round"/><polyline points="73,37.3 586.52,37.3" fill="none" stroke="#54B399" stroke-width="1.4" stroke-linejoin="round"/><text x="63" y="210.9" text-anchor="end">0.00B</text><text x="63" y="198.57" text-anchor="end">953.67MB</text><text x="63" y="186.24" text-anchor="end">1.86GB</text><text x="63" y="173.91" text-anchor="end">2.79GB</text><text x="63" y="161.58" text-anchor="end">3.73GB</text><text x="63" y="149.25" text-anchor="end">4.66GB</text><text x="63" y="136.92" text-anchor="end">5.59GB</text><text x="63" y="124.59" text-anchor="end">6.52GB</text><text x="63" y="112.26" text-anchor="end">7.45GB</text><text x="63" y="99.93" text-anchor="end">8.38GB</text><text x="63" y="87.6" text-anchor="end">9.31GB</text><text x="63" y="75.27" text-anchor="end">10.24GB</text><text x="63" y="62.94" text-anchor="end">11.18GB</text><text x="63" y="50.61" text-anchor="end">12.11GB</text><text x="73" y="225.8" text-anchor="middle">17:21</text><text x="109.68" y="225.8" text-anchor="middle">17:22</text><text x="146.36" y="225.8" text-anchor="middle">17:23</text><text x="183.04" y="225.8" text-anchor="middle">17:24</text><text x="219.72" y="225.8" text-anchor="middle">17:25</text><text x="256.4" y="225.8" text-anchor="middle">17:26</text><text x="293.08" y="225.8" text-anchor="middle">17:27</text><text x="329.76" y="225.8" text-anchor="middle">17:28</text><text x="366.44" y="225.8" text-anchor="middle">17:29</text><text x="403.12" y="225.8" text-anchor="middle">17:30</text><text x="439.8" y="225.8" text-anchor="middle">17:31</text><text x="476.48" y="225.8" text-anchor="middle">17:32</text><text x="513.16" y="225.8" text-anchor="middle">17:33</text><text x="549.84" y="225.8" text-anchor="middle">17:34</text><text x="586.52" y="225.8" text-anchor="middle">17:35</text></svg>
</div>
<div class="panel" style="left:1278.00px;top:1544px;width:627.00px;height:244px">
<div class="ptitle" style="letter-spacing:-0.022px">Used PID vs limit</div>
<svg style="left:0;top:0" width="627" height="244" viewBox="0 0 627 244" font-size="10" fill="#69707d"><rect x="72" y="36.6" width="18.1" height="170.9" fill="#dfe1e7"/><path d="M72 187.61H605.2M72 167.22H605.2M72 146.83H605.2M72 126.44H605.2M72 106.05H605.2M72 85.66H605.2M72 65.27H605.2M72 44.88H605.2" stroke="#eaecf1" stroke-width="1" stroke-dasharray="4 4" fill="none"/><path d="M72 207.5H605.2M72 36.6V207.5M108.79 36.6V207.5M145.58 36.6V207.5M182.37 36.6V207.5M219.16 36.6V207.5M255.95 36.6V207.5M292.74 36.6V207.5M329.53 36.6V207.5M366.32 36.6V207.5M403.11 36.6V207.5M439.9 36.6V207.5M476.69 36.6V207.5M513.48 36.6V207.5M550.27 36.6V207.5M587.06 36.6V207.5" stroke="#eeeff4" stroke-width="1.7" fill="none"/><polyline points="72,207 587.06,207" fill="none" stroke="#D36086" stroke-width="2" stroke-linejoin="round"/><polyline points="72,37.3 587.06,37.3" fill="none" stroke="#54B399" stroke-width="1.4" stroke-linejoin="round"/><text x="62" y="210.9" text-anchor="end">0</text><text x="62" y="190.51" text-anchor="end">500,000</text><text x="62" y="170.12" text-anchor="end">1,000,000</text><text x="62" y="149.73" text-anchor="end">1,500,000</text><text x="62" y="129.34" text-anchor="end">2,000,000</text><text x="62" y="108.95" text-anchor="end">2,500,000</text><text x="62" y="88.56" text-anchor="end">3,000,000</text><text x="62" y="68.17" text-anchor="end">3,500,000</text><text x="62" y="47.78" text-anchor="end">4,000,000</text><text x="72" y="225.8" text-anchor="middle">17:21</text><text x="108.79" y="225.8" text-anchor="middle">17:22</text><text x="145.58" y="225.8" text-anchor="middle">17:23</text><text x="182.37" y="225.8" text-anchor="middle">17:24</text><text x="219.16" y="225.8" text-anchor="middle">17:25</text><text x="255.95" y="225.8" text-anchor="middle">17:26</text><text x="292.74" y="225.8" text-anchor="middle">17:27</text><text x="329.53" y="225.8" text-anchor="middle">17:28</text><text x="366.32" y="225.8" text-anchor="middle">17:29</text><text x="403.11" y="225.8" text-anchor="middle">17:30</text><text x="439.9" y="225.8" text-anchor="middle">17:31</text><text x="476.69" y="225.8" text-anchor="middle">17:32</text><text x="513.48" y="225.8" text-anchor="middle">17:33</text><text x="550.27" y="225.8" text-anchor="middle">17:34</text><text x="587.06" y="225.8" text-anchor="middle">17:35</text></svg>
</div>
<div class="panel" style="left:1913.00px;top:1040px;width:627.00px;height:244px">
<div class="ptitle" style="letter-spacing:0.17px">Inbound network traffic top nodes</div>
<svg style="left:0;top:0" width="627" height="244" viewBox="0 0 627 244" font-size="11" fill="#4a4f5a"><path d="M313.6 33.2A101 101 0 0 1 400.24 186.1L340.36 150.23A31.2 31.2 0 0 0 313.6 103Z" fill="#79AAD9" stroke="#fff" stroke-width="1.2"/><path d="M400.24 186.1A101 101 0 0 1 328.08 234.16L318.07 165.08A31.2 31.2 0 0 0 340.36 150.23Z" fill="#EE789D" stroke="#fff" stroke-width="1.2"/><path d="M328.08 234.16A101 101 0 0 1 324.62 234.6L317 165.21A31.2 31.2 0 0 0 318.07 165.08Z" fill="#A987D1" stroke="#fff" stroke-width="0.4"/><path d="M324.62 234.6A101 101 0 0 1 322.85 234.78L316.46 165.27A31.2 31.2 0 0 0 317 165.21Z" fill="#E4A6C7" stroke="#fff" stroke-width="0.4"/><path d="M322.85 234.78A101 101 0 0 1 319.69 235.02L315.48 165.34A31.2 31.2 0 0 0 316.46 165.27Z" fill="#F1D86F" stroke="#fff" stroke-width="0.4"/><path d="M319.69 235.02A101 101 0 1 1 313.6 33.2L313.6 103A31.2 31.2 0 1 0 315.48 165.34Z" fill="#6DCCB1" stroke="#fff" stroke-width="1.2"/><polyline points="401.4,83.4 410.3,79.2 420.1,79.2" fill="none" stroke="#1a1c21" stroke-width="1"/><polyline points="212.4,136.7 202.7,137.2 199.3,140.3 189.3,140.3" fill="none" stroke="#1a1c21" stroke-width="1"/><polyline points="369.1,218.3 375.5,226.7 385.2,226.7" fill="none" stroke="#1a1c21" stroke-width="1"/><text x="430.4" y="82.2">gke-chrismark-elasticon-…</text><text x="604.2" y="82.2" text-anchor="end">33.59%</text><text x="21.5" y="144">gke-chrismark-elastic…</text><text x="179.3" y="144" text-anchor="end">50.96%</text><text x="395.6" y="230.3">gke-chrismark-elasticon-default-…</text><text x="605.5" y="230.3" text-anchor="end">14.12%</text></svg>
</div>
</body></html>
